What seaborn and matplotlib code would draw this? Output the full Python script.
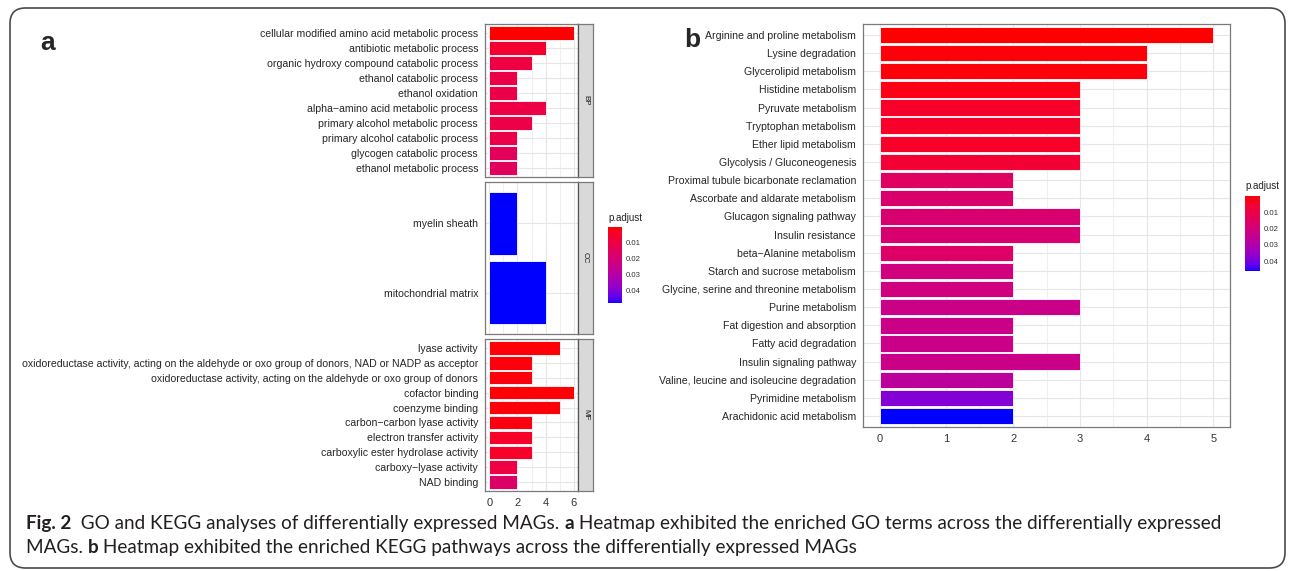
import numpy as np
import pandas as pd
import matplotlib
matplotlib.use("Agg")
import matplotlib.pyplot as plt
import seaborn as sns
from matplotlib.colors import ListedColormap, Normalize
from matplotlib.cm import ScalarMappable
from matplotlib.patches import FancyBboxPatch
from matplotlib.ticker import FixedLocator

# ---------------- data ----------------
bp_terms = ["cellular modified amino acid metabolic process", "antibiotic metabolic process",
            "organic hydroxy compound catabolic process", "ethanol catabolic process",
            "ethanol oxidation", "alpha\u2212amino acid metabolic process",
            "primary alcohol metabolic process", "primary alcohol catabolic process",
            "glycogen catabolic process", "ethanol metabolic process"]
bp_counts = [6, 4, 3, 2, 2, 4, 3, 2, 2, 2]
bp_padj = [0.0002, 0.006, 0.0095, 0.0105, 0.0105, 0.0100, 0.0100, 0.0105, 0.0145, 0.0150]

cc_terms = ["myelin sheath", "mitochondrial matrix"]
cc_counts = [2, 4]
cc_padj = [0.048, 0.048]

mf_terms = ["lyase activity",
            "oxidoreductase activity, acting on the aldehyde or oxo group of donors, NAD or NADP as acceptor",
            "oxidoreductase activity, acting on the aldehyde or oxo group of donors",
            "cofactor binding", "coenzyme binding", "carbon\u2212carbon lyase activity",
            "electron transfer activity", "carboxylic ester hydrolase activity",
            "carboxy\u2212lyase activity", "NAD binding"]
mf_counts = [5, 3, 3, 6, 5, 3, 3, 3, 2, 2]
mf_padj = [0.0008, 0.0012, 0.0012, 0.0006, 0.0010, 0.0018, 0.0050, 0.0050, 0.0095, 0.0170]

kegg_terms = ["Arginine and proline metabolism", "Lysine degradation", "Glycerolipid metabolism",
              "Histidine metabolism", "Pyruvate metabolism", "Tryptophan metabolism",
              "Ether lipid metabolism", "Glycolysis / Gluconeogenesis",
              "Proximal tubule bicarbonate reclamation", "Ascorbate and aldarate metabolism",
              "Glucagon signaling pathway", "Insulin resistance", "beta\u2212Alanine metabolism",
              "Starch and sucrose metabolism", "Glycine, serine and threonine metabolism",
              "Purine metabolism", "Fat digestion and absorption", "Fatty acid degradation",
              "Insulin signaling pathway", "Valine, leucine and isoleucine degradation",
              "Pyrimidine metabolism", "Arachidonic acid metabolism"]
kegg_counts = [5, 4, 4, 3, 3, 3, 3, 3, 2, 2, 3, 3, 2, 2, 2, 3, 2, 2, 3, 2, 2, 2]
kegg_padj = [0.0002, 0.0010, 0.0010, 0.0020, 0.0048, 0.0048, 0.0048, 0.0066, 0.0150, 0.0175,
             0.0180, 0.0180, 0.0160, 0.0210, 0.0210, 0.0230, 0.0230, 0.0230, 0.0230, 0.0270,
             0.0380, 0.0460]

cbar_ticks = [0.01, 0.02, 0.03, 0.04]

# ---------------- colour ramp (red -> blue in CIELAB, like ggplot) ----------------
_M = np.array([[0.4124, 0.3576, 0.1805], [0.2126, 0.7152, 0.0722], [0.0193, 0.1192, 0.9505]])
_WHITE = np.array([0.95047, 1.0, 1.08883])

def _srgb_to_lab(rgb):
    c = np.asarray(rgb, float)
    lin = np.where(c <= 0.04045, c / 12.92, ((c + 0.055) / 1.055) ** 2.4)
    X, Y, Z = (_M @ lin) / _WHITE
    f = lambda t: np.where(t > 0.008856, np.cbrt(t), 7.787 * t + 16 / 116)
    fx_, fy_, fz_ = f(X), f(Y), f(Z)
    return np.array([116 * fy_ - 16, 500 * (fx_ - fy_), 200 * (fy_ - fz_)])

def _lab_to_srgb(lab):
    L, a, b = lab
    fy_ = (L + 16) / 116
    fx_ = fy_ + a / 500
    fz_ = fy_ - b / 200
    finv = lambda t: np.where(t ** 3 > 0.008856, t ** 3, (t - 16 / 116) / 7.787)
    XYZ = np.array([finv(fx_), finv(fy_), finv(fz_)]) * _WHITE
    lin = np.clip(np.linalg.inv(_M) @ XYZ, 0, 1)
    c = np.where(lin <= 0.0031308, 12.92 * lin, 1.055 * lin ** (1 / 2.4) - 0.055)
    return np.clip(c, 0, 1)

lab_lo = _srgb_to_lab([1, 0, 0])
lab_hi = _srgb_to_lab([0, 0, 1])
ramp = [_lab_to_srgb(lab_lo + (lab_hi - lab_lo) * t) for t in np.linspace(0, 1, 256)]
cmap = ListedColormap(ramp)

# ---------------- figure ----------------
W, H = 1293, 571
sns.set_style("white")
plt.rcParams["font.family"] = ["Liberation Sans", "DejaVu Sans"]
fig = plt.figure(figsize=(W / 100, H / 100), dpi=100)

def fx(px):
    return px / W

def fy(py):
    return 1 - py / H

def rect(x0, y0, x1, y1):
    return [fx(x0), fy(y1), fx(x1) - fx(x0), fy(y0) - fy(y1)]

GRID = "#E6E6E6"
BORDER = "#7a7a7a"

def style_axes(ax, xmax_lim, xticks, xminor, terms, show_x, lbl):
    ax.set_xlim(-0.05 * xmax_lim, 1.05 * xmax_lim)
    ax.set_ylim(len(terms) - 1 + 0.6, -0.6)
    ax.xaxis.set_major_locator(FixedLocator(xticks))
    ax.xaxis.set_minor_locator(FixedLocator(xminor))
    ax.set_yticks(range(len(terms)))
    ax.set_yticklabels(terms, fontsize=lbl, color="#262626")
    ax.set_xlabel("")
    ax.set_ylabel("")
    ax.set_axisbelow(True)
    ax.grid(True, which="major", color=GRID, lw=0.8)
    ax.grid(True, which="minor", axis="x", color=GRID, lw=0.45)
    ax.tick_params(axis="y", length=3, width=0.6, color="#444444", pad=2)
    ax.tick_params(axis="x", which="minor", length=0)
    if show_x:
        ax.tick_params(axis="x", which="major", length=3, width=0.6, color="#444444",
                       labelsize=lbl + 0.5, labelcolor="#333333", pad=2)
    else:
        ax.tick_params(axis="x", which="major", length=0, labelbottom=False)
    for s in ax.spines.values():
        s.set_visible(True)
        s.set_color(BORDER)
        s.set_linewidth(0.9)

def draw_bars(ax, terms, counts, padj, norm):
    df = pd.DataFrame({"term": terms, "count": counts, "padj": padj})
    pal = {t: cmap(norm(p)) for t, p in zip(terms, padj)}
    sns.barplot(data=df, x="count", y="term", hue="term", palette=pal, legend=False,
                orient="h", width=0.9, ax=ax, edgecolor="#ffffff", linewidth=0.6,
                saturation=1)

# ---------- panel a ----------
norm_a = Normalize(vmin=0.0002, vmax=0.048)
facets = [("BP", bp_terms, bp_counts, bp_padj, (24, 177)),
          ("CC", cc_terms, cc_counts, cc_padj, (182, 334)),
          ("MF", mf_terms, mf_counts, mf_padj, (339, 491))]
for name, terms, counts, padj, (y0, y1) in facets:
    ax = fig.add_axes(rect(485, y0, 578, y1))
    draw_bars(ax, terms, counts, padj, norm_a)
    style_axes(ax, 6, [0, 2, 4, 6], [1, 3, 5], terms, name == "MF", 7.55)
    sax = fig.add_axes(rect(578, y0, 593, y1))
    sax.set_facecolor("#D9D9D9")
    sax.set_xticks([])
    sax.set_yticks([])
    for s in sax.spines.values():
        s.set_color(BORDER)
        s.set_linewidth(0.9)
    sax.spines["left"].set_color("#555555")
    sax.text(0.5, 0.5, name, rotation=270, ha="center", va="center", fontsize=5.8,
             color="#1a1a1a", transform=sax.transAxes)

# colourbar a
cax_a = fig.add_axes(rect(608, 227, 622, 303))
cb_a = fig.colorbar(ScalarMappable(norm=norm_a, cmap=cmap), cax=cax_a)
cb_a.set_ticks(cbar_ticks)
cb_a.ax.invert_yaxis()
cb_a.outline.set_visible(False)
cb_a.ax.tick_params(length=2.5, width=0.5, color="#ffffff", direction="in", labelsize=5.6,
                    labelcolor="#333333", pad=3)
fig.text(fx(608), fy(218), "p.adjust", fontsize=7, color="#222222", ha="left", va="center")

# ---------- panel b ----------
norm_b = Normalize(vmin=0.0002, vmax=0.046)
axb = fig.add_axes(rect(863, 24, 1230, 427))
draw_bars(axb, kegg_terms, kegg_counts, kegg_padj, norm_b)
style_axes(axb, 5, [0, 1, 2, 3, 4, 5], [0.5, 1.5, 2.5, 3.5, 4.5], kegg_terms, True, 7.55)

cax_b = fig.add_axes(rect(1245, 196, 1260, 271))
cb_b = fig.colorbar(ScalarMappable(norm=norm_b, cmap=cmap), cax=cax_b)
cb_b.set_ticks(cbar_ticks)
cb_b.ax.invert_yaxis()
cb_b.outline.set_visible(False)
cb_b.ax.tick_params(length=2.5, width=0.5, color="#ffffff", direction="in", labelsize=5.6,
                    labelcolor="#333333", pad=3)
fig.text(fx(1245), fy(186), "p.adjust", fontsize=7, color="#222222", ha="left", va="center")

# panel letters
fig.text(fx(48), fy(43), "a", fontsize=19, fontweight="bold", ha="center", va="center",
         family=["Liberation Sans"])
fig.text(fx(692), fy(40), "b", fontsize=19, fontweight="bold", ha="center", va="center",
         family=["Liberation Sans"])

# ---------- frame ----------
frame = FancyBboxPatch((fx(10), fy(568)), fx(1285) - fx(10), fy(8) - fy(568),
                       boxstyle="round,pad=0,rounding_size=0.012", transform=fig.transFigure,
                       fill=False, edgecolor="#4a4a4a", lw=1.2, mutation_aspect=W / H)
fig.add_artist(frame)

# ---------- caption ----------
CAP_FONT = ["Lato", "DejaVu Sans"]
CAP_COL = "#231f20"
line1 = [("Fig. 2", "bold"), ("  GO and KEGG analyses of differentially expressed MAGs. ", "normal"),
         ("a", "bold"), (" Heatmap exhibited the enriched GO terms across the differentially expressed", "normal")]
line2 = [("MAGs. ", "normal"), ("b", "bold"),
         (" Heatmap exhibited the enriched KEGG pathways across the differentially expressed MAGs", "normal")]

renderer = fig.canvas.get_renderer()

def adv(s, size, weight):
    t1 = fig.text(0, 0, s + "|", fontsize=size, fontweight=weight, family=CAP_FONT)
    t2 = fig.text(0, 0, "|", fontsize=size, fontweight=weight, family=CAP_FONT)
    w = t1.get_window_extent(renderer).width - t2.get_window_extent(renderer).width
    t1.remove()
    t2.remove()
    return w

def line_width(pieces, size):
    return sum(adv(s, size, w) for s, w in pieces)

base = 12.0
cap_size = base * 1185.0 / line_width(line1, base)

def place(pieces, x, y, size):
    cx = x
    for s, w in pieces:
        fig.text(fx(cx), fy(y), s, fontsize=size, fontweight=w, family=CAP_FONT,
                 color=CAP_COL, ha="left", va="baseline")
        cx += adv(s, size, w)

place(line1, 26, 529, cap_size)
place(line2, 26, 553, cap_size)

fig.savefig("out.png", dpi=100)
